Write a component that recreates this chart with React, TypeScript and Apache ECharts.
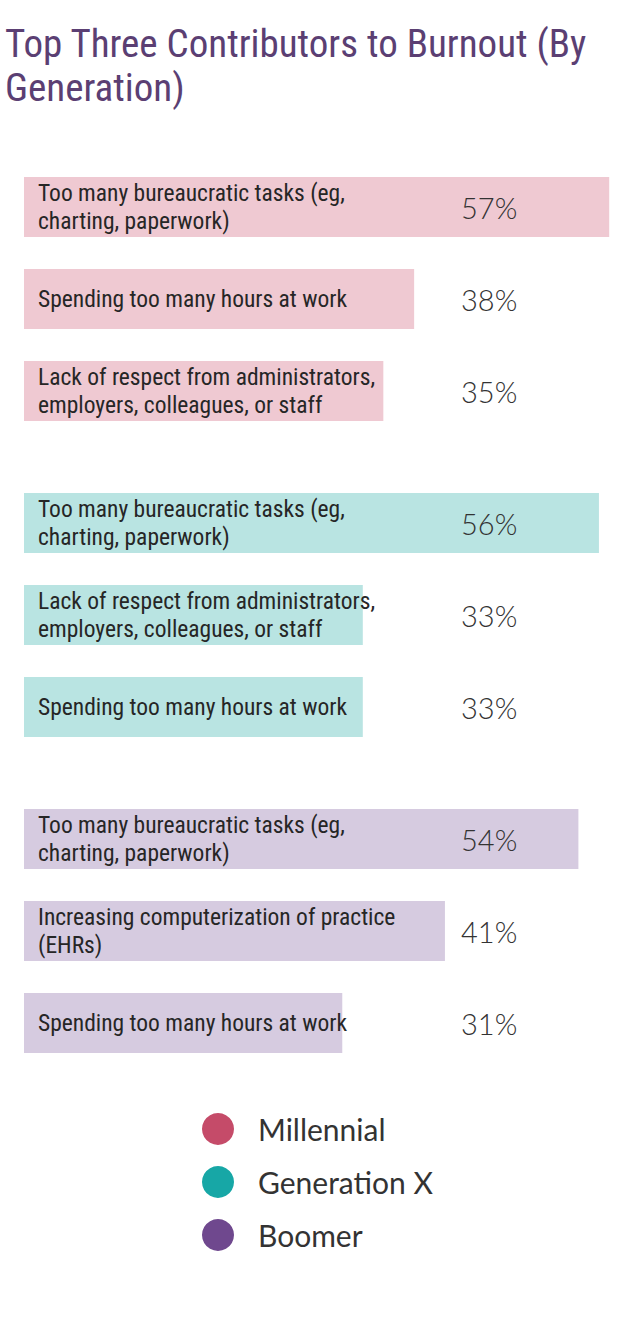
import React, { useEffect, useRef } from "react";
import * as echarts from "echarts";

const generations = ["Millennial", "Generation X", "Boomer"];
const legendColors = ["#c54b69", "#17a7a6", "#6f488e"];
const barColors = ["#efc9d2", "#b9e4e2", "#d6cbe0"];

const millennialReasons = [
  "Too many bureaucratic tasks (eg,\ncharting, paperwork)",
  "Spending too many hours at work",
  "Lack of respect from administrators,\nemployers, colleagues, or staff",
];
const millennialValues = [57, 38, 35];

const genXReasons = [
  "Too many bureaucratic tasks (eg,\ncharting, paperwork)",
  "Lack of respect from administrators,\nemployers, colleagues, or staff",
  "Spending too many hours at work",
];
const genXValues = [56, 33, 33];

const boomerReasons = [
  "Too many bureaucratic tasks (eg,\ncharting, paperwork)",
  "Increasing computerization of practice\n(EHRs)",
  "Spending too many hours at work",
];
const boomerValues = [54, 41, 31];

const condensed = "'Roboto Condensed', 'Liberation Sans Narrow', 'DejaVu Sans Condensed', Roboto, sans-serif";
const lightSans = "Lato, 'Open Sans', sans-serif";

const App = () => {
  const chartRef = useRef<HTMLDivElement>(null);

  useEffect(() => {
    if (!chartRef.current) return;
    const chart = echarts.init(chartRef.current, null, { renderer: "svg" });

    const groups = [
      { reasons: millennialReasons, values: millennialValues },
      { reasons: genXReasons, values: genXValues },
      { reasons: boomerReasons, values: boomerValues },
    ];
    const tops = [161, 477, 793];

    const options = {
      animation: false,
      title: {
        text: "Top Three Contributors to Burnout (By\nGeneration)",
        left: 5,
        top: 22,
        padding: 0,
        textStyle: {
          fontFamily: condensed,
          fontSize: 39,
          lineHeight: 44,
          fontWeight: "normal",
          color: "#5b3f73",
        },
      },
      legend: {
        orient: "vertical",
        left: 202,
        top: 1113,
        padding: 0,
        icon: "circle",
        itemWidth: 32,
        itemHeight: 32,
        itemGap: 21,
        selectedMode: false,
        textStyle: {
          fontFamily: lightSans,
          fontSize: 30,
          color: "#333",
          padding: [0, 0, 0, 19],
        },
        data: generations.map((g, i) => ({ name: g, itemStyle: { color: legendColors[i] } })),
      },
      grid: tops.map(t => ({ left: 24, top: t, width: 616, height: 276 })),
      xAxis: groups.map((_, i) => ({
        gridIndex: i,
        type: "value",
        min: 0,
        max: 60,
        show: false,
      })),
      yAxis: groups.map((g, i) => ({
        gridIndex: i,
        type: "category",
        inverse: true,
        data: g.reasons,
        z: 5,
        axisLine: { show: false },
        axisTick: { show: false },
        splitLine: { show: false },
        axisLabel: {
          margin: -437,
          align: "left",
          fontFamily: lightSans,
          fontWeight: 300,
          fontSize: 29,
          color: "#333",
          formatter: (_v: string, idx: number) => g.values[idx] + "%",
        },
      })),
      series: groups.map((g, i) => ({
        name: generations[i],
        type: "bar",
        xAxisIndex: i,
        yAxisIndex: i,
        barWidth: 60,
        data: g.values,
        itemStyle: { color: barColors[i] },
        label: {
          show: true,
          position: "insideLeft",
          distance: 14,
          fontFamily: condensed,
          fontSize: 23.5,
          lineHeight: 28,
          color: "#262626",
          formatter: (p: any) => g.reasons[p.dataIndex],
        },
      })),
    };

    chart.setOption(options);
    return () => chart.dispose();
  }, []);

  return (
    <div
      ref={chartRef}
      style={{ position: "absolute", left: 0, top: 0, width: "640px", height: "1331px", background: "#fff" }}
    />
  );
};

export default App;
